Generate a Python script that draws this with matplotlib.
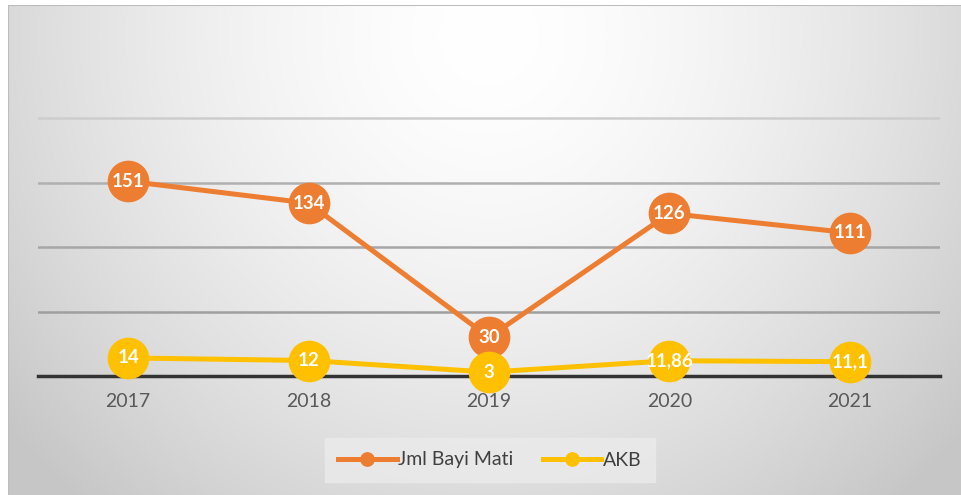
import matplotlib.pyplot as plt
import numpy as np

years = ['2017', '2018', '2019', '2020', '2021']
jml_bayi_mati = [151, 134, 30, 126, 111]
akb = [14, 12, 3, 11.86, 11.1]

orange = '#ED7D31'
yellow = '#FFC000'

plt.rcParams['font.family'] = ['Lato', 'DejaVu Sans']

fig = plt.figure(figsize=(9.62, 4.95), dpi=100)

# background with radial gradient, like the office chart style
bg = fig.add_axes([8/962, 0, 954/962, 490/495])
yy, xx = np.mgrid[0:490, 0:954]
dist = np.sqrt(((xx - 480) / 560.0) ** 2 + ((yy - 30) / 560.0) ** 2)
shade = 1.0 - 0.22 * np.clip(dist, 0, 1.1) ** 1.6 / 1.1 ** 1.6
img = np.dstack([shade, shade, shade])
bg.imshow(img, aspect='auto', extent=[0, 1, 0, 1])
bg.set_xlim(0, 1)
bg.set_ylim(0, 1)
bg.axis('off')
bg.plot([0, 1], [1, 1], color='#bdbdbd', lw=1.5)
bg.plot([0, 0], [0, 1], color='#bdbdbd', lw=1.5)

ax = fig.add_axes([38/962, 1 - 376/495, 902/962, (376 - 53.5)/495])
ax.patch.set_alpha(0)
x = np.arange(len(years))

ax.plot(x, jml_bayi_mati, color=orange, lw=3.6, marker='o', markersize=29,
        label='Jml Bayi Mati', zorder=3, clip_on=False)
ax.plot(x, akb, color=yellow, lw=3.6, marker='o', markersize=29,
        label='AKB', zorder=4, clip_on=False)

for xi, v in zip(x, jml_bayi_mati):
    ax.text(xi, v, '{:g}'.format(v), color='white', fontsize=13.5,
            fontweight='bold', ha='center', va='center', zorder=5)
for xi, v in zip(x, akb):
    ax.text(xi, v, '{:g}'.format(v).replace('.', ','), color='white',
            fontsize=13.5, fontweight='bold', ha='center', va='center', zorder=6)

ax.set_xlim(-0.5, 4.5)
ax.set_ylim(0, 250)
ax.set_yticks([50, 100, 150, 200])
ax.yaxis.grid(True, lw=1.8)
grid_colors = ['#9f9f9f', '#a6a6a6', '#b0b0b0', '#cdcdcd']
for gl, c in zip(ax.get_ygridlines(), grid_colors):
    gl.set_color(c)
ax.set_axisbelow(True)
ax.tick_params(axis='y', left=False, labelleft=False)
ax.set_xticks(x)
ax.set_xticklabels(years, fontsize=14, color='#595959')
ax.tick_params(axis='x', length=0, pad=12)
for s in ['top', 'right', 'left']:
    ax.spines[s].set_visible(False)
ax.spines['bottom'].set_color('#333333')
ax.spines['bottom'].set_linewidth(2.5)
ax.spines['bottom'].set_zorder(2)

leg = ax.legend(loc='center', bbox_to_anchor=(490/962, 1 - 460/495),
                bbox_transform=fig.transFigure, ncol=2, frameon=True,
                fontsize=14, markerscale=0.33, handlelength=3,
                handletextpad=0.1, columnspacing=1.5, fancybox=False,
                borderpad=0.7)
leg.get_frame().set_facecolor('#ebebeb')
leg.get_frame().set_edgecolor('#ebebeb')
for t in leg.get_texts():
    t.set_color('#404040')

fig.savefig('out.png', dpi=100)
